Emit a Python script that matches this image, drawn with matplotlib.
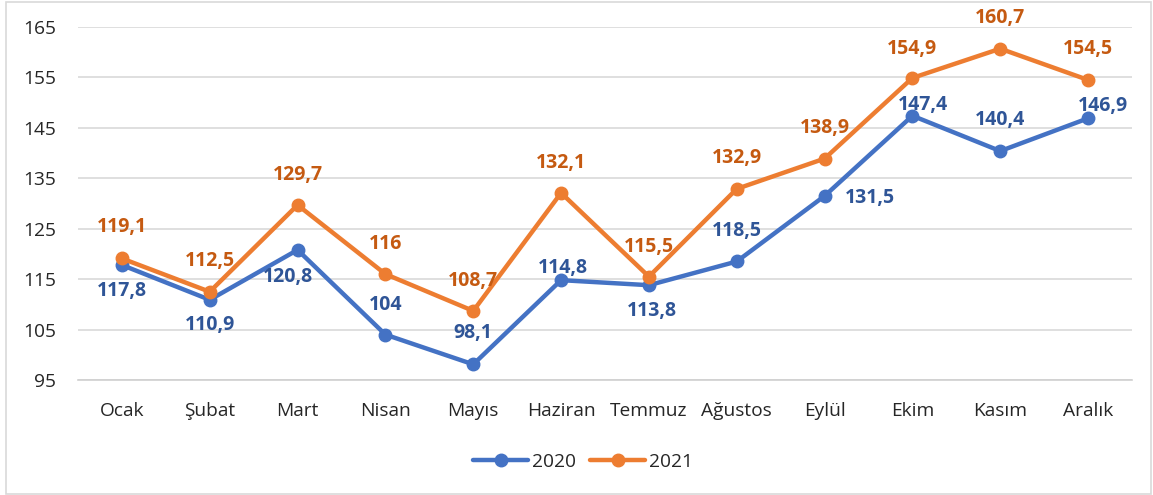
import matplotlib
matplotlib.use("Agg")
import matplotlib.pyplot as plt
from matplotlib.patches import Rectangle

plt.rcParams['font.family'] = ['Open Sans', 'DejaVu Sans']

months = ["Ocak", "Şubat", "Mart", "Nisan", "Mayıs", "Haziran", "Temmuz",
          "Ağustos", "Eylül", "Ekim", "Kasım", "Aralık"]
values_2020 = [117.8, 110.9, 120.8, 104, 98.1, 114.8, 113.8, 118.5, 131.5, 147.4, 140.4, 146.9]
values_2021 = [119.1, 112.5, 129.7, 116, 108.7, 132.1, 115.5, 132.9, 138.9, 154.9, 160.7, 154.5]
y_ticks = [95, 105, 115, 125, 135, 145, 155, 165]

# label offsets in pixels (dx, dy up)
off_2020 = [(0, -26), (0, -25), (-10, -27), (0, 30), (0, 31), (2, 12), (3, -26),
            (0, 30), (45, -2), (11, 11), (0, 31), (15, 12)]
off_2021 = [(0, 31), (0, 31), (0, 30), (0, 30), (0, 30), (0, 30), (0, 30),
            (0, 31), (0, 31), (0, 29), (0, 31), (0, 31)]

blue = "#4472C4"
orange = "#ED7D31"
blue_lbl = "#2F5597"
orange_lbl = "#C55A11"

W, H = 1153, 495
fig = plt.figure(figsize=(W / 100, H / 100), dpi=100)
ax = fig.add_axes([78 / W, 1 - 380 / H, (1132 - 78) / W, (380 - 27) / H])

x = list(range(len(months)))
ax.plot(x, values_2020, color=blue, lw=3.2, marker='o', ms=9, label="2020", zorder=3,
        solid_capstyle='round')
ax.plot(x, values_2021, color=orange, lw=3.2, marker='o', ms=9, label="2021", zorder=4,
        solid_capstyle='round')

px = 0.72
def fmt(v):
    s = f"{v:g}"
    return s.replace('.', ',')

for i, v in enumerate(values_2020):
    dx, dy = off_2020[i]
    ax.annotate(fmt(v), (i, v), xytext=(dx * px, dy * px), textcoords='offset points',
                ha='center', va='center', fontsize=14, fontweight='bold', color=blue_lbl,
                zorder=5)
for i, v in enumerate(values_2021):
    dx, dy = off_2021[i]
    ax.annotate(fmt(v), (i, v), xytext=(dx * px, dy * px), textcoords='offset points',
                ha='center', va='center', fontsize=14, fontweight='bold', color=orange_lbl,
                zorder=5)

ax.set_xlim(-0.5, len(months) - 0.5)
ax.set_ylim(95, 165)
ax.set_yticks(y_ticks)
ax.set_xticks(x)
ax.set_xticklabels(months)
ax.tick_params(axis='both', length=0, labelsize=13.8, colors='#262626')
ax.tick_params(axis='x', pad=16)
ax.tick_params(axis='y', pad=16)
ax.grid(axis='y', color='#D9D9D9', lw=1.2)
ax.set_axisbelow(True)
for s in ['top', 'right', 'left']:
    ax.spines[s].set_visible(False)
ax.spines['bottom'].set_color('#D0D0D0')
ax.spines['bottom'].set_linewidth(1.2)

leg = fig.legend(loc='center', bbox_to_anchor=(583 / W, 1 - 462 / H), ncol=2, frameon=False,
                 fontsize=13.8, handlelength=2.9, columnspacing=0.7, handletextpad=0.2)
for t in leg.get_texts():
    t.set_color('#262626')

fig.patches.append(Rectangle((6 / W, 1 / H), 1 - 8 / W, 1 - 3 / H,
                             transform=fig.transFigure, fill=False,
                             edgecolor='#D9D9D9', lw=1.2))

fig.savefig("out.png", dpi=100, facecolor='white')
